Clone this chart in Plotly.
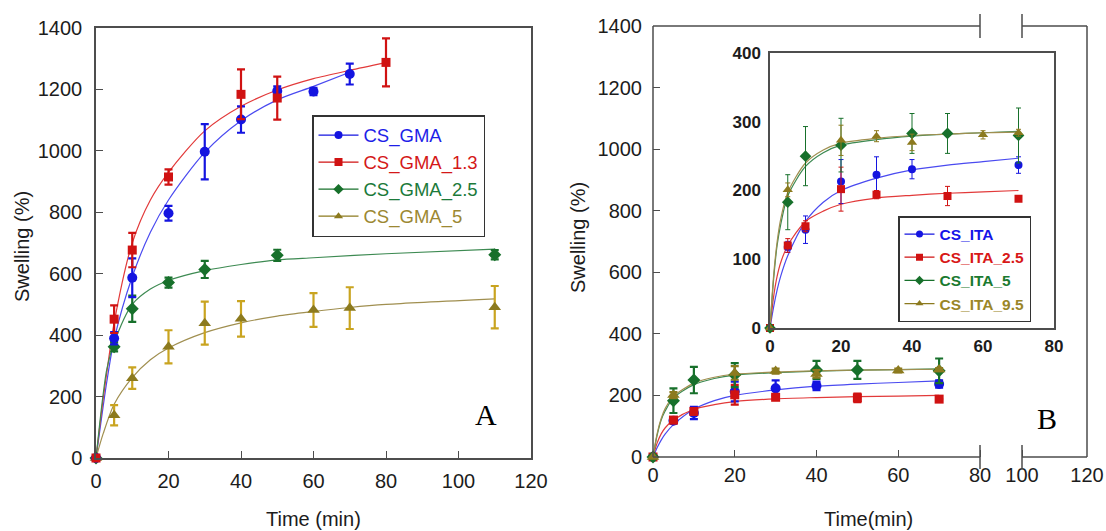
import plotly.graph_objects as go

W, H = 1106, 531

# ---------------- Panel A (CS_GMA series) ----------------
gma_t = [0, 5, 10, 20, 30, 40, 50, 60, 70]
gma_s = [0, 390, 587, 797, 997, 1102, 1195, 1193, 1250]
gma_e = [0, 20, 63, 24, 90, 43, 15, 12, 34]

gma13_t = [0, 5, 10, 20, 40, 50, 80]
gma13_s = [0, 452, 677, 915, 1184, 1172, 1288]
gma13_e = [0, 45, 56, 25, 81, 70, 78]

gma25_t = [0, 5, 10, 20, 30, 50, 110]
gma25_s = [0, 362, 486, 571, 614, 660, 662]
gma25_e = [0, 15, 43, 16, 28, 18, 15]

gma5_t = [0, 5, 10, 20, 30, 40, 60, 70, 110]
gma5_s = [0, 139, 260, 362, 439, 453, 482, 488, 491]
gma5_e = [0, 33, 35, 54, 70, 58, 55, 68, 69]

# fitted curves
gma_fit_t = [0, 1, 2, 3, 5, 10, 15, 20, 30, 40, 50, 60, 70]
gma_fit_s = [0, 85, 170, 250, 385, 590, 735, 840, 995, 1098, 1166, 1210, 1256]
gma13_fit_t = [0, 1, 2, 3, 5, 10, 15, 20, 30, 40, 50, 60, 70, 80]
gma13_fit_s = [0, 100, 195, 280, 440, 700, 840, 930, 1065, 1145, 1198, 1235, 1262, 1287]
gma25_fit_t = [0, 1, 2, 3, 5, 10, 15, 20, 30, 40, 50, 60, 80, 110]
gma25_fit_s = [0, 110, 210, 290, 375, 500, 550, 578, 610, 630, 645, 652, 665, 680]
gma5_fit_t = [0, 2, 5, 10, 15, 20, 30, 40, 50, 60, 70, 80, 110]
gma5_fit_s = [0, 80, 175, 262, 320, 358, 408, 440, 462, 477, 490, 500, 518]

# ---------------- Panel B (CS_ITA series) ----------------
ita_t = [0, 5, 10, 20, 30, 40, 70]
ita_s = [0, 118, 143, 213, 223, 231, 237]
ita_e = [0, 8, 20, 32, 26, 14, 12]

ita25_t = [0, 5, 10, 20, 30, 50, 70]
ita25_s = [0, 120, 148, 202, 194, 192, 188]
ita25_e = [0, 10, 8, 32, 6, 14, 0]

ita5_t = [0, 5, 10, 20, 40, 50, 70]
ita5_s = [0, 183, 250, 266, 283, 283, 280]
ita5_e = [0, 40, 43, 39, 29, 29, 40]

ita95_t = [0, 5, 20, 30, 40, 60, 70]
ita95_s = [0, 201, 273, 279, 270, 281, 284]
ita95_e = [0, 10, 22, 8, 12, 6, 5]

ita_fit_t = [0, 1, 2, 3, 5, 10, 15, 20, 30, 40, 50, 60, 70]
ita_fit_s = [0, 30, 55, 75, 105, 155, 183, 200, 218, 230, 237, 242, 247]
ita25_fit_s = [0, 45, 75, 95, 120, 155, 170, 180, 189, 193, 196, 198, 200]
ita5_fit_s = [0, 70, 120, 150, 192, 235, 255, 266, 274, 279, 282, 284, 286]
ita95_fit_s = [0, 75, 125, 158, 197, 240, 259, 269, 276, 280, 282, 284, 285]

labels_A = ["CS_GMA", "CS_GMA_1.3", "CS_GMA_2.5", "CS_GMA_5"]
labels_B = ["CS_ITA", "CS_ITA_2.5", "CS_ITA_5", "CS_ITA_9.5"]

x_ticks_A = [0, 20, 40, 60, 80, 100, 120]
y_ticks_main = [0, 200, 400, 600, 800, 1000, 1200, 1400]
x_ticks_B_text = ["0", "20", "40", "60", "80", "100", "120"]
x_ticks_inset = [0, 20, 40, 60, 80]
y_ticks_inset = [0, 100, 200, 300, 400]

# ---------------- styling ----------------
BLUE, RED, GREEN, GOLD = "#1414e0", "#d01212", "#17702b", "#8c7a1e"
FIT = {"b": "#4a4af0", "r": "#e23a3a", "g": "#3d8a52", "o": "#a08f50"}
TXT_A = ["#1e1ee8", "#d41818", "#1c7a3a", "#9c8832"]
GOLD_ERR_A = "#c9a420"
FONT = "Arial, Liberation Sans, sans-serif"
FRAME = "#4d4d4d"

fig = go.Figure()

def px_x(p):
    return p / W

def px_y(p):
    return (H - p) / H

def add_fit(t, s, color, xa, ya):
    fig.add_trace(go.Scatter(x=t, y=s, mode="lines", line=dict(color=color, width=1.2, shape="spline", smoothing=0.8),
                             xaxis=xa, yaxis=ya, showlegend=False, hoverinfo="skip"))

def add_pts(t, s, e, color, sym, size, xa, ya, ecolor, ethick, ewidth):
    fig.add_trace(go.Scatter(x=t, y=s, mode="markers", marker=dict(color=color, symbol=sym, size=size),
                             error_y=dict(type="data", array=e, visible=True, color=ecolor, thickness=ethick, width=ewidth),
                             xaxis=xa, yaxis=ya, showlegend=False, cliponaxis=False))

def add_legend(name, color, fitcolor, sym, size, legend, xa, ya):
    fig.add_trace(go.Scatter(x=[None], y=[None], mode="lines+markers", name=name,
                             marker=dict(color=color, symbol=sym, size=size),
                             line=dict(color=fitcolor, width=1.3), legend=legend, xaxis=xa, yaxis=ya))

# Panel A
add_fit(gma_fit_t, gma_fit_s, FIT["b"], "x", "y")
add_fit(gma13_fit_t, gma13_fit_s, FIT["r"], "x", "y")
add_fit(gma25_fit_t, gma25_fit_s, FIT["g"], "x", "y")
add_fit(gma5_fit_t, gma5_fit_s, FIT["o"], "x", "y")
add_pts(gma5_t, gma5_s, gma5_e, GOLD, "triangle-up", 11, "x", "y", GOLD_ERR_A, 2.2, 4)
add_pts(gma25_t, gma25_s, gma25_e, GREEN, "diamond", 10, "x", "y", GREEN, 2.2, 4)
add_pts(gma_t, gma_s, gma_e, BLUE, "circle", 10, "x", "y", BLUE, 2.2, 4)
add_pts(gma13_t, gma13_s, gma13_e, RED, "square", 9, "x", "y", RED, 2.2, 4)

for lab, c, tc, sym in zip(labels_A, [BLUE, RED, GREEN, GOLD], TXT_A,
                           ["circle", "square", "diamond", "triangle-up"]):
    add_legend("<span style='color:%s'>%s</span>" % (tc, lab), c, c, sym, 8, "legend", "x", "y")

# Panel B main
add_fit(ita_fit_t, ita_fit_s, FIT["b"], "x2", "y2")
add_fit(ita_fit_t, ita25_fit_s, FIT["r"], "x2", "y2")
add_fit(ita_fit_t, ita5_fit_s, FIT["g"], "x2", "y2")
add_fit(ita_fit_t, ita95_fit_s, FIT["o"], "x2", "y2")
add_pts(ita_t, ita_s, ita_e, BLUE, "circle", 10, "x2", "y2", BLUE, 2.2, 4)
add_pts(ita25_t, ita25_s, ita25_e, RED, "square", 9, "x2", "y2", RED, 2.2, 4)
add_pts(ita5_t, ita5_s, ita5_e, GREEN, "diamond", 10, "x2", "y2", GREEN, 2.2, 4)
add_pts(ita95_t, ita95_s, ita95_e, GOLD, "triangle-up", 11, "x2", "y2", GOLD, 2.2, 4)

# Inset
add_fit(ita_fit_t, ita_fit_s, FIT["b"], "x3", "y3")
add_fit(ita_fit_t, ita25_fit_s, FIT["r"], "x3", "y3")
add_fit(ita_fit_t, ita5_fit_s, FIT["g"], "x3", "y3")
add_fit(ita_fit_t, ita95_fit_s, FIT["o"], "x3", "y3")
add_pts(ita_t, ita_s, ita_e, BLUE, "circle", 8, "x3", "y3", BLUE, 1, 2.5)
add_pts(ita25_t, ita25_s, ita25_e, RED, "square", 8, "x3", "y3", RED, 1, 2.5)
add_pts(ita5_t, ita5_s, ita5_e, GREEN, "diamond", 9, "x3", "y3", GREEN, 1, 2.5)
add_pts(ita95_t, ita95_s, ita95_e, GOLD, "triangle-up", 9, "x3", "y3", GOLD, 1, 2.5)

TXT_B = ["#1414e8", "#d81818", "#1a7a30", "#9a8628"]
for lab, c, tc, sym in zip(labels_B, [BLUE, RED, GREEN, GOLD], TXT_B,
                           ["circle", "square", "diamond", "triangle-up"]):
    add_legend("<span style='color:%s'>%s</span>" % (tc, lab), c, c, sym, 7, "legend2", "x3", "y3")

# axis break geometry for panel B (pixel positions of the drawn axis)
B_left, B_80, B_100, B_right = 653, 980, 1022, 1087
xmax_B = 80 * (B_right - B_left) / (B_80 - B_left)
pos100 = 80 * (B_100 - B_left) / (B_80 - B_left)
x_ticks_B = [0, 20, 40, 60, 80, pos100, xmax_B]

tickfont = dict(family=FONT, size=20, color="#1c1c1c")
common_ax = dict(showgrid=False, zeroline=False, ticks="inside", ticklen=7, tickwidth=1.3,
                 tickcolor=FRAME, tickfont=tickfont, automargin=False)
inset_font = dict(family=FONT, size=17, color="#1c1c1c", weight="bold")

fig.update_layout(
    width=W, height=H, margin=dict(l=0, r=0, t=0, b=0, autoexpand=False),
    paper_bgcolor="white", plot_bgcolor="white",
    font=dict(family=FONT, color="#1c1c1c"),
    xaxis=dict(domain=[px_x(96), px_x(531)], range=[0, 120], tickvals=x_ticks_A, anchor="y",
               showline=True, mirror=True, linecolor=FRAME, linewidth=1.5, ticklabelstandoff=4, **common_ax),
    yaxis=dict(domain=[px_y(458), px_y(28)], range=[0, 1400], tickvals=y_ticks_main, anchor="x",
               showline=True, mirror=True, linecolor=FRAME, linewidth=1.5, ticklabelstandoff=8, **common_ax),
    xaxis2=dict(domain=[px_x(B_left), px_x(B_right)], range=[0, xmax_B], tickvals=x_ticks_B,
                ticktext=x_ticks_B_text, anchor="y2", showline=False, ticklabelstandoff=4, **common_ax),
    yaxis2=dict(domain=[px_y(457), px_y(26)], range=[0, 1400], tickvals=y_ticks_main, anchor="x2",
                showline=False, ticklabelstandoff=10, **common_ax),
    xaxis3=dict(domain=[px_x(770), px_x(1054)], range=[0, 80], tickvals=x_ticks_inset, anchor="y3",
                showline=True, mirror=True, linecolor=FRAME, linewidth=1.5, showgrid=False, zeroline=False,
                ticks="", tickfont=inset_font, ticklabelstandoff=2, automargin=False),
    yaxis3=dict(domain=[px_y(328), px_y(53)], range=[0, 400], tickvals=y_ticks_inset, anchor="x3",
                showline=True, mirror=True, linecolor=FRAME, linewidth=1.5, showgrid=False, zeroline=False,
                ticks="", tickfont=inset_font, ticklabelstandoff=4, automargin=False),
    legend=dict(x=px_x(312), y=px_y(115), xanchor="left", yanchor="top", bgcolor="white",
                bordercolor="#333333", borderwidth=1.5, font=dict(family=FONT, size=18.5),
                itemwidth=40, tracegroupgap=0, entrywidth=150, entrywidthmode="pixels"),
    legend2=dict(x=px_x(898), y=px_y(216), xanchor="left", yanchor="top", bgcolor="white",
                 bordercolor="#333333", borderwidth=1.5, font=dict(family=FONT, size=15.5, weight="bold"),
                 itemwidth=30, tracegroupgap=0),
    showlegend=True,
)

# broken frame for panel B
f80 = (B_80 - B_left) / (B_right - B_left)
f100 = (B_100 - B_left) / (B_right - B_left)
hpx = 457 - 26
seg = dict(color=FRAME, width=1.5)
shapes = []
for yy in (0, 1):
    shapes.append(dict(type="line", xref="x2 domain", yref="y2 domain", x0=0, x1=f80, y0=yy, y1=yy, line=seg))
    shapes.append(dict(type="line", xref="x2 domain", yref="y2 domain", x0=f100, x1=1, y0=yy, y1=yy, line=seg))
    for xx in (f80, f100):
        shapes.append(dict(type="line", xref="x2 domain", yref="y2 domain", x0=xx, x1=xx,
                           y0=yy - 12 / hpx, y1=yy + 12 / hpx, line=seg))
shapes.append(dict(type="line", xref="x2 domain", yref="y2 domain", x0=0, x1=0, y0=0, y1=1, line=seg))
shapes.append(dict(type="line", xref="x2 domain", yref="y2 domain", x0=1, x1=1, y0=0, y1=1, line=seg))
fig.update_layout(shapes=shapes)

ann_font = dict(family=FONT, size=20, color="#1c1c1c")
ctr = dict(xref="paper", yref="paper", xanchor="center", yanchor="middle", showarrow=False)
fig.add_annotation(text="Swelling (%)", x=px_x(22), y=px_y(247), textangle=-90, font=ann_font, **ctr)
fig.add_annotation(text="Swelling (%)", x=px_x(578), y=px_y(238), textangle=-90, font=ann_font, **ctr)
fig.add_annotation(text="Time (min)", x=px_x(313), y=px_y(519), font=ann_font, **ctr)
fig.add_annotation(text="Time(min)", x=px_x(868), y=px_y(519), font=ann_font, **ctr)
serif = dict(family="Liberation Serif, Times New Roman, serif", size=30, color="black")
fig.add_annotation(text="A", x=px_x(486), y=px_y(414), font=serif, **ctr)
fig.add_annotation(text="B", x=px_x(1047), y=px_y(418), font=serif, **ctr)

fig.write_html("out.html", config={"displayModeBar": False},
               post_script="document.body.style.margin='0px';document.body.style.overflow='hidden';")
